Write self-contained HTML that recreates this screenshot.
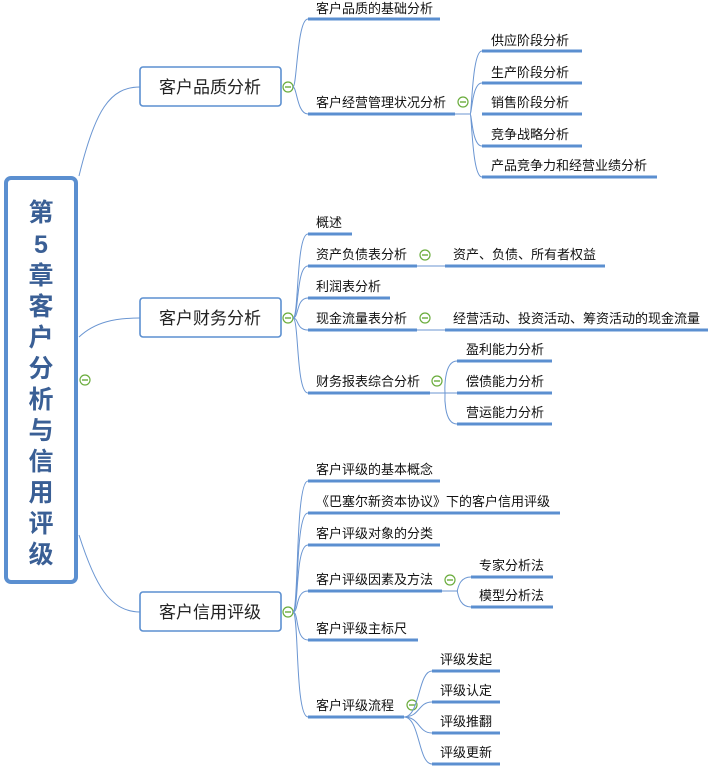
<!DOCTYPE html>
<html><head><meta charset="utf-8"><style>
html,body{margin:0;padding:0;background:#fff;}
svg{display:block;}
text{font-family:"Liberation Sans","Noto Sans CJK SC",sans-serif;fill:#111;font-size:13px;}
.u{stroke:#5b8fd0;stroke-width:3;}
.c{fill:none;stroke:#6b96d2;stroke-width:1;}
.ic{fill:#fff;stroke:#6aac3c;stroke-width:1.2;}
.im{stroke:#6aac3c;stroke-width:1.4;}
.b{fill:#fff;stroke:#5b8fd0;stroke-width:1.6;}
.l1{font-size:17px;fill:#222;}
.cen{font-size:25px;font-weight:bold;fill:#3a5f95;}
</style></head><body>
<svg width="713" height="774" viewBox="0 0 713 774" xmlns="http://www.w3.org/2000/svg">
<!-- central box -->
<rect x="6" y="178" width="70" height="404" rx="5" fill="#fff" stroke="#5b8fd0" stroke-width="4"/>
<g class="cen" text-anchor="middle">
<text x="41" y="221" class="cen">第</text>
<text x="41" y="253" class="cen">5</text>
<text x="41" y="284" class="cen">章</text>
<text x="41" y="315" class="cen">客</text>
<text x="41" y="346" class="cen">户</text>
<text x="41" y="377" class="cen">分</text>
<text x="41" y="408" class="cen">析</text>
<text x="41" y="439" class="cen">与</text>
<text x="41" y="470" class="cen">信</text>
<text x="41" y="501" class="cen">用</text>
<text x="41" y="532" class="cen">评</text>
<text x="41" y="563" class="cen">级</text>
</g>
<circle cx="85" cy="380" r="5" class="ic"/><line x1="82" y1="380" x2="88" y2="380" class="im"/>

<!-- central connectors -->
<path class="c" d="M79 176 C95 110,110 87,140 87"/>
<path class="c" d="M79 337 C95 322,115 318,140 318"/>
<path class="c" d="M79 535 C95 585,110 612,140 612"/>

<!-- level1 boxes -->
<rect x="140" y="67" width="141" height="39" rx="3" class="b"/>
<text x="210" y="93" text-anchor="middle" class="l1">客户品质分析</text>
<rect x="140" y="298" width="141" height="39" rx="3" class="b"/>
<text x="210" y="324" text-anchor="middle" class="l1">客户财务分析</text>
<rect x="140" y="592" width="141" height="39" rx="3" class="b"/>
<text x="210" y="618" text-anchor="middle" class="l1">客户信用评级</text>

<circle cx="288" cy="87" r="5" class="ic"/><line x1="285" y1="87" x2="291" y2="87" class="im"/>
<circle cx="288" cy="318" r="5" class="ic"/><line x1="285" y1="318" x2="291" y2="318" class="im"/>
<circle cx="288" cy="612" r="5" class="ic"/><line x1="285" y1="612" x2="291" y2="612" class="im"/>

<!-- group1 -->
<path class="c" d="M293 87 C297 87,297 19,308 19"/>
<path class="c" d="M293 87 C297 87,297 114,308 114"/>
<line class="u" x1="308" y1="19" x2="440" y2="19"/><text x="316" y="13">客户品质的基础分析</text>
<line class="u" x1="308" y1="114" x2="455" y2="114"/><text x="316" y="107">客户经营管理状况分析</text>
<circle cx="463" cy="102" r="5" class="ic"/><line x1="460" y1="102" x2="466" y2="102" class="im"/>
<path class="c" d="M455 114 L470 114"/>
<path class="c" d="M470 114 C472 114,472 51,482 51"/>
<path class="c" d="M470 114 C472 114,472 83,482 83"/>
<path class="c" d="M470 114 C472 114,472 146,482 146"/>
<path class="c" d="M470 114 C472 114,472 177,482 177"/>
<line class="u" x1="482" y1="51" x2="582" y2="51"/><text x="491" y="45">供应阶段分析</text>
<line class="u" x1="482" y1="83" x2="582" y2="83"/><text x="491" y="77">生产阶段分析</text>
<line class="u" x1="482" y1="114" x2="582" y2="114"/><text x="491" y="107">销售阶段分析</text>
<line class="u" x1="482" y1="146" x2="582" y2="146"/><text x="491" y="139">竞争战略分析</text>
<line class="u" x1="482" y1="177" x2="657" y2="177"/><text x="491" y="170">产品竞争力和经营业绩分析</text>

<!-- group2 -->
<path class="c" d="M293 318 C299 318,296 234,308 234"/>
<path class="c" d="M293 318 C299 318,296 266,308 266"/>
<path class="c" d="M293 318 C299 318,296 298,308 298"/>
<path class="c" d="M293 318 C299 318,296 330,308 330"/>
<path class="c" d="M293 318 C299 318,296 393,308 393"/>
<line class="u" x1="308" y1="234" x2="352" y2="234"/><text x="316" y="227">概述</text>
<line class="u" x1="308" y1="266" x2="417" y2="266"/><text x="316" y="259">资产负债表分析</text>
<circle cx="425" cy="255" r="5" class="ic"/><line x1="422" y1="255" x2="428" y2="255" class="im"/>
<line class="c" x1="417" y1="266" x2="445" y2="266"/>
<line class="u" x1="445" y1="266" x2="605" y2="266"/><text x="453" y="259">资产、负债、所有者权益</text>
<line class="u" x1="308" y1="298" x2="390" y2="298"/><text x="316" y="291">利润表分析</text>
<line class="u" x1="308" y1="330" x2="417" y2="330"/><text x="316" y="323">现金流量表分析</text>
<circle cx="425" cy="318" r="5" class="ic"/><line x1="422" y1="318" x2="428" y2="318" class="im"/>
<line class="c" x1="417" y1="330" x2="445" y2="330"/>
<line class="u" x1="445" y1="330" x2="708" y2="330"/><text x="453" y="323">经营活动、投资活动、筹资活动的现金流量</text>
<line class="u" x1="308" y1="393" x2="430" y2="393"/><text x="316" y="386">财务报表综合分析</text>
<circle cx="437" cy="381" r="5" class="ic"/><line x1="434" y1="381" x2="440" y2="381" class="im"/>
<line class="c" x1="430" y1="393" x2="457" y2="393"/>
<path class="c" d="M445 393 C445 393,443 361,457 361"/>
<path class="c" d="M445 393 C445 393,443 424,457 424"/>
<line class="u" x1="457" y1="361" x2="552" y2="361"/><text x="466" y="354">盈利能力分析</text>
<line class="u" x1="457" y1="393" x2="552" y2="393"/><text x="466" y="386">偿债能力分析</text>
<line class="u" x1="457" y1="424" x2="552" y2="424"/><text x="466" y="417">营运能力分析</text>

<!-- group3 -->
<path class="c" d="M293 612 C299 612,295 481,308 481"/>
<path class="c" d="M293 612 C299 612,295 513,308 513"/>
<path class="c" d="M293 612 C299 612,295 545,308 545"/>
<path class="c" d="M293 612 C299 612,295 591,308 591"/>
<path class="c" d="M293 612 C299 612,295 640,308 640"/>
<path class="c" d="M293 612 C299 612,295 717,308 717"/>
<line class="u" x1="308" y1="481" x2="440" y2="481"/><text x="316" y="474">客户评级的基本概念</text>
<line class="u" x1="308" y1="513" x2="560" y2="513"/><text x="316" y="506">《巴塞尔新资本协议》下的客户信用评级</text>
<line class="u" x1="308" y1="545" x2="440" y2="545"/><text x="316" y="538">客户评级对象的分类</text>
<line class="u" x1="308" y1="591" x2="442" y2="591"/><text x="316" y="584">客户评级因素及方法</text>
<circle cx="450" cy="580" r="5" class="ic"/><line x1="447" y1="580" x2="453" y2="580" class="im"/>
<line class="c" x1="442" y1="591" x2="458" y2="591"/>
<path class="c" d="M457 591 C458 591,458 577,471 577"/>
<path class="c" d="M457 591 C458 591,458 607,471 607"/>
<line class="u" x1="471" y1="577" x2="553" y2="577"/><text x="479" y="570">专家分析法</text>
<line class="u" x1="471" y1="607" x2="553" y2="607"/><text x="479" y="600">模型分析法</text>
<line class="u" x1="308" y1="640" x2="418" y2="640"/><text x="316" y="633">客户评级主标尺</text>
<line class="u" x1="308" y1="717" x2="404" y2="717"/><text x="316" y="710">客户评级流程</text>
<circle cx="412" cy="705" r="5" class="ic"/><line x1="409" y1="705" x2="415" y2="705" class="im"/>
<path class="c" d="M404 717 C420 717,418 671,432 671"/>
<path class="c" d="M404 717 C420 717,418 702,432 702"/>
<path class="c" d="M404 717 C420 717,418 733,432 733"/>
<path class="c" d="M404 717 C420 717,418 764,432 764"/>
<line class="u" x1="432" y1="671" x2="500" y2="671"/><text x="440" y="664">评级发起</text>
<line class="u" x1="432" y1="702" x2="500" y2="702"/><text x="440" y="695">评级认定</text>
<line class="u" x1="432" y1="733" x2="500" y2="733"/><text x="440" y="726">评级推翻</text>
<line class="u" x1="432" y1="764" x2="500" y2="764"/><text x="440" y="757">评级更新</text>
</svg>
</body></html>
